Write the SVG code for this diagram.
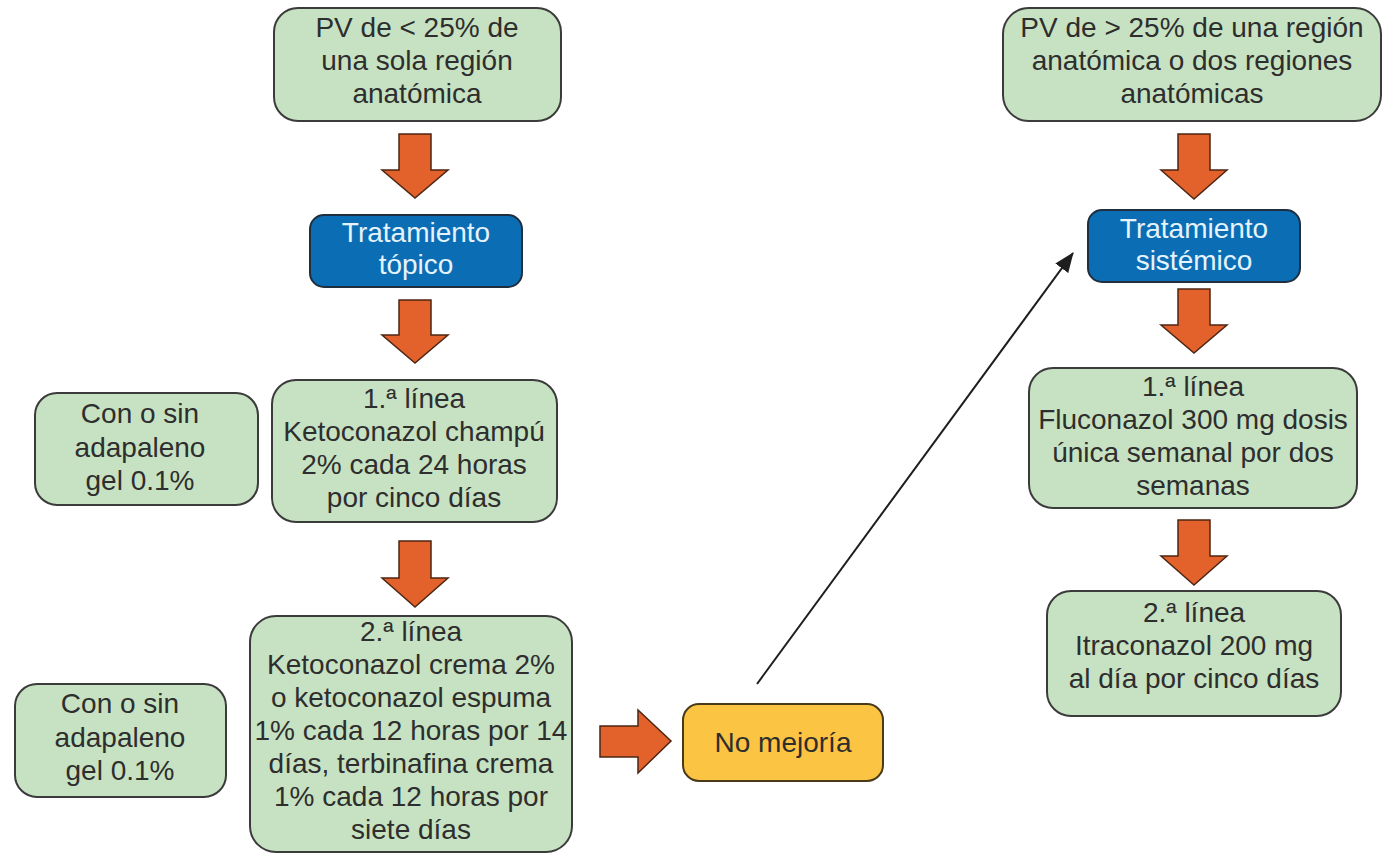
<svg xmlns="http://www.w3.org/2000/svg" width="1384" height="856" viewBox="0 0 1384 856">
  <style>
    .g { fill: #c7e2c2; stroke: #3b3b3b; stroke-width: 2; }
    .b { fill: #0b6db4; stroke: #1f2f3f; stroke-width: 2; }
    .y { fill: #fcc443; stroke: #4a3a1a; stroke-width: 2; }
    .t { font-family: "Liberation Sans", Arial, Helvetica, sans-serif; font-size: 28px; fill: #2e2e2e; text-anchor: middle; }
    .tw { font-family: "Liberation Sans", Arial, Helvetica, sans-serif; font-size: 28px; fill: #e4f3fc; text-anchor: middle; }
    .oa { fill: #e3622b; stroke: #4e2614; stroke-width: 1.5; stroke-linejoin: miter; }
    .ln { stroke: #1e1e1e; stroke-width: 2; fill: none; }
  </style>
  <defs>
    <marker id="ahb" viewBox="0 0 20 16" refX="19" refY="8" markerWidth="20" markerHeight="16" orient="auto" markerUnits="userSpaceOnUse">
      <path d="M0,0 L20,8 L0,16 z" fill="#1e1e1e"/>
    </marker>
  </defs>
  <rect width="1384" height="856" fill="#ffffff"/>

  <g id="connectors">
    <path id="arrA" class="oa" d="M399,134 H431 V170 H448 L415,198 L382,170 H399 Z"/>
    <path id="arrB" class="oa" d="M399,300 H431 V335 H448 L415,363 L382,335 H399 Z"/>
    <path id="arrC" class="oa" d="M399,541 H431 V578 H448 L415,607 L382,578 H399 Z"/>
    <path id="arrD" class="oa" d="M600,726 H638 V710 L671,741 L638,773 V757 H600 Z"/>
    <path id="arrH" class="oa" d="M1178,134 H1210 V170 H1227 L1194,199 L1161,170 H1178 Z"/>
    <path id="arrI" class="oa" d="M1178,289 H1210 V325 H1227 L1194,353 L1161,325 H1178 Z"/>
    <path id="arrJ" class="oa" d="M1178,520 H1210 V556 H1227 L1194,585 L1161,556 H1178 Z"/>
    <line id="lineNoMejoria" class="ln" x1="757" y1="684" x2="1073" y2="253" marker-end="url(#ahb)"/>
  </g>

  <g id="nodeA">
    <rect class="g" x="274" y="8" width="287" height="113" rx="24"/>
    <text class="t" x="417" y="37">PV de &lt; 25% de</text>
    <text class="t" x="417" y="70">una sola región</text>
    <text class="t" x="417" y="103">anatómica</text>
  </g>

  <g id="nodeB">
    <rect class="b" x="310" y="215" width="212" height="72" rx="14"/>
    <text class="tw" x="416" y="242">Tratamiento</text>
    <text class="tw" x="416" y="274">tópico</text>
  </g>

  <g id="nodeC">
    <rect class="g" x="272" y="380" width="285" height="142" rx="24"/>
    <text class="t" x="414" y="408">1.ª línea</text>
    <text class="t" x="414" y="441">Ketoconazol champú</text>
    <text class="t" x="414" y="474">2% cada 24 horas</text>
    <text class="t" x="414" y="507">por cinco días</text>
  </g>

  <g id="nodeD">
    <rect class="g" x="35" y="393" width="223" height="112" rx="22"/>
    <text class="t" x="140" y="423">Con o sin</text>
    <text class="t" x="140" y="457">adapaleno</text>
    <text class="t" x="140" y="490">gel 0.1%</text>
  </g>

  <g id="nodeE">
    <rect class="g" x="250" y="616" width="322" height="236" rx="26"/>
    <text class="t" x="411" y="641">2.ª línea</text>
    <text class="t" x="411" y="674">Ketoconazol crema 2%</text>
    <text class="t" x="411" y="707">o ketoconazol espuma</text>
    <text class="t" x="411" y="740">1% cada 12 horas por 14</text>
    <text class="t" x="411" y="773">días, terbinafina crema</text>
    <text class="t" x="411" y="806">1% cada 12 horas por</text>
    <text class="t" x="411" y="839">siete días</text>
  </g>

  <g id="nodeF">
    <rect class="g" x="15" y="684" width="211" height="113" rx="22"/>
    <text class="t" x="120" y="713">Con o sin</text>
    <text class="t" x="120" y="747">adapaleno</text>
    <text class="t" x="120" y="780">gel 0.1%</text>
  </g>

  <g id="nodeG">
    <rect class="y" x="683" y="704" width="200" height="77" rx="16"/>
    <text class="t" x="783" y="752">No mejoría</text>
  </g>

  <g id="nodeH">
    <rect class="g" x="1003" y="8" width="378" height="113" rx="26"/>
    <text class="t" x="1192" y="37">PV de &gt; 25% de una región</text>
    <text class="t" x="1192" y="70">anatómica o dos regiones</text>
    <text class="t" x="1192" y="103">anatómicas</text>
  </g>

  <g id="nodeI">
    <rect class="b" x="1088" y="210" width="212" height="72" rx="14"/>
    <text class="tw" x="1194" y="238">Tratamiento</text>
    <text class="tw" x="1194" y="270">sistémico</text>
  </g>

  <g id="nodeJ">
    <rect class="g" x="1029" y="368" width="328" height="140" rx="24"/>
    <text class="t" x="1193" y="396">1.ª línea</text>
    <text class="t" x="1193" y="429">Fluconazol 300 mg dosis</text>
    <text class="t" x="1193" y="462">única semanal por dos</text>
    <text class="t" x="1193" y="495">semanas</text>
  </g>

  <g id="nodeK">
    <rect class="g" x="1047" y="591" width="294" height="125" rx="24"/>
    <text class="t" x="1194" y="622">2.ª línea</text>
    <text class="t" x="1194" y="655">Itraconazol 200 mg</text>
    <text class="t" x="1194" y="688">al día por cinco días</text>
  </g>
</svg>
